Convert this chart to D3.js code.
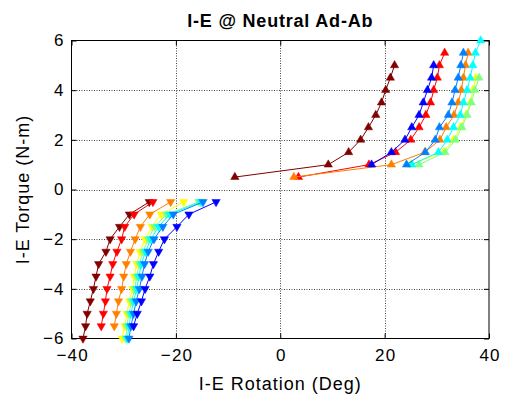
<!DOCTYPE html>
<html>
<head>
<meta charset="utf-8">
<script src="https://cdn.jsdelivr.net/npm/d3@7"></script>
<style>
  html, body { margin: 0; padding: 0; background: #fff; }
  svg { display: block; font-family: "Liberation Sans", Arial, sans-serif; }
</style>
</head>
<body>
<svg id="chart" width="510" height="399"></svg>
<script>
// Torque levels (N-m) for the external- and internal-rotation loading steps
const upTorque   = [0.5, 1, 1.5, 2, 2.5, 3, 3.5, 4, 4.5, 5, 5.5, 6];
const downTorque = [-0.5, -1, -1.5, -2, -2.5, -3, -3.5, -4, -4.5, -5, -5.5, -6];

// Rotation (deg) at each positive torque level; null = level not reached
const upMaroon    = [-8.7, 9.2, 13.1, 15.4, 16.9, 18.3, 19.4, 20.2, 21.1, 21.9, null, null];
const upRed       = [3.5, 17.0, 22.1, 25.0, 26.6, 27.9, 28.8, 29.4, 30.1, 30.5, 31.5, null];
const upOrange    = [2.6, 21.3, 27.7, 30.6, 31.8, 33.3, 34.1, 34.7, 35.1, 35.5, 36.0, null];
const upYellow    = [null, 24.9, 31.2, 33.2, 34.5, 35.6, 36.4, 36.9, 37.5, null, null, null];
const upGreen     = [null, 26.6, 31.6, 33.6, 34.8, 35.8, 36.6, 37.3, 38.1, null, null, null];
const upCyan      = [null, 25.2, 30.3, 32.0, 33.2, 34.5, 35.1, 35.8, 36.4, 36.9, 37.4, 38.4];
const upLightBlue = [null, 24.2, 27.8, 29.7, 30.5, 32.2, 32.9, 33.5, 34.1, 34.6, 35.1, null];
const upBlue      = [null, 17.5, 21.3, 23.9, 25.2, 26.6, 27.4, 28.2, 29.0, 29.4, null, null];

// Rotation (deg) at each negative torque level
const downMaroon    = [-25.1, -28.9, -30.8, -32.6, -33.4, -34.8, -35.3, -35.8, -36.4, -37.0, -37.3, -37.8];
const downRed       = [-24.4, -28.0, -29.8, -30.4, -31.3, -32.1, -32.6, -33.2, -33.5, -33.9, -34.3, null];
const downOrange    = [-21.0, -25.0, -26.8, -27.8, -28.7, -29.5, -30.0, -30.4, -31.0, -31.4, -31.8, null];
const downYellow    = [-18.5, -22.8, -24.6, -25.9, -26.9, -27.5, -28.0, -28.3, -28.9, -29.4, -29.8, -30.3];
const downGreen     = [-15.6, -21.8, -24.1, -25.3, -26.3, -27.0, -27.5, -27.9, -28.5, -29.0, -29.4, -29.6];
const downCyan      = [-15.2, -21.2, -23.3, -24.8, -25.8, -26.6, -27.1, -27.5, -28.1, -28.6, -29.0, -29.3];
const downLightBlue = [-14.8, -20.5, -22.5, -24.2, -25.3, -26.0, -26.5, -27.0, -27.6, -28.1, -28.6, -29.0];
const downBlue      = [-12.3, -17.5, -19.8, -22.2, -23.3, -24.3, -25.0, -25.9, -26.6, -27.4, -28.1, null];

const seriesColors = ["#800000", "#ff0000", "#ff8000", "#ffff00", "#80ff80", "#00ffff", "#0080ff", "#0000ff"];
const upSeries   = [upMaroon, upRed, upOrange, upYellow, upGreen, upCyan, upLightBlue, upBlue];
const downSeries = [downMaroon, downRed, downOrange, downYellow, downGreen, downCyan, downLightBlue, downBlue];

const xTicks = [-40, -20, 0, 20, 40];
const yTicks = [-6, -4, -2, 0, 2, 4, 6];

const titleText  = "I-E @ Neutral Ad-Ab";
const xLabelText = "I-E Rotation (Deg)";
const yLabelText = "I-E Torque (N-m)";

const svg = d3.select("#chart");
const plot = { left: 71.5, right: 489, top: 40.5, bottom: 338.5 };

const x = d3.scaleLinear().domain([-40, 40]).range([plot.left, plot.right]);
const y = d3.scaleLinear().domain([-6, 6]).range([plot.bottom, plot.top]);

svg.append("rect").attr("width", 510).attr("height", 399).attr("fill", "#fff");

// dotted grid
const grid = svg.append("g").attr("stroke", "#444").attr("stroke-width", 1).attr("stroke-dasharray", "1,1.5");
xTicks.slice(1, -1).forEach(t => {
  grid.append("line").attr("x1", Math.round(x(t)) + 0.5).attr("x2", Math.round(x(t)) + 0.5)
    .attr("y1", plot.top).attr("y2", plot.bottom);
});
yTicks.slice(1, -1).forEach(t => {
  grid.append("line").attr("y1", Math.round(y(t)) + 0.5).attr("y2", Math.round(y(t)) + 0.5)
    .attr("x1", plot.left).attr("x2", plot.right);
});

// axes with inward ticks on all four sides
const tickLen = 5;
const bottomAxis = d3.axisBottom(x).tickValues(xTicks).tickSize(-tickLen).tickPadding(10).tickFormat(d3.format("d"));
const topAxis    = d3.axisTop(x).tickValues(xTicks).tickSize(-tickLen).tickFormat("");
const leftAxis   = d3.axisLeft(y).tickValues(yTicks).tickSize(-tickLen).tickPadding(8).tickFormat(d3.format("d"));
const rightAxis  = d3.axisRight(y).tickValues(yTicks).tickSize(-tickLen).tickFormat("");

function styleAxis(g) {
  g.selectAll(".domain").remove();
  g.selectAll("line").attr("stroke", "#000");
  g.selectAll("text").attr("fill", "#000").style("font-size", "17px")
    .style("letter-spacing", "1.2px")
    .style("font-family", "'Liberation Sans', Arial, sans-serif");
}
svg.append("g").attr("transform", `translate(0,${plot.bottom})`).call(bottomAxis).call(styleAxis)
  .selectAll("text").attr("dx", "0.6px");
svg.append("g").attr("transform", `translate(0,${plot.top})`).call(topAxis).call(styleAxis);
svg.append("g").attr("transform", `translate(${plot.left},0)`).call(leftAxis).call(styleAxis)
  .selectAll("text").attr("dx", "1.2px");
svg.append("g").attr("transform", `translate(${plot.right},0)`).call(rightAxis).call(styleAxis);

svg.append("rect").attr("x", plot.left).attr("y", plot.top)
  .attr("width", plot.right - plot.left).attr("height", plot.bottom - plot.top)
  .attr("fill", "none").attr("stroke", "#000").attr("stroke-width", 1);

// series: connected lines with filled triangle markers
const line = d3.line().defined(d => d.r !== null).x(d => x(d.r)).y(d => y(d.t));
const tri = d3.symbol(d3.symbolTriangle, 30);

function drawSeries(values, torques, color, flip) {
  const pts = values.map((r, i) => ({ r: r, t: torques[i] })).filter(d => d.r !== null);
  const g = svg.append("g");
  g.append("path").datum(pts).attr("d", line).attr("fill", "none")
    .attr("stroke", color).attr("stroke-width", 1);
  g.selectAll("path.m").data(pts).join("path").attr("class", "m")
    .attr("d", tri)
    .attr("transform", d => `translate(${x(d.r)},${y(d.t)})` + (flip ? " rotate(180)" : ""))
    .attr("fill", color).attr("stroke", color).attr("stroke-width", 0.5);
}
downSeries.forEach((s, i) => drawSeries(s, downTorque, seriesColors[i], true));
upSeries.forEach((s, i) => drawSeries(s, upTorque, seriesColors[i], false));

// titles
svg.append("text").attr("x", (plot.left + plot.right) / 2).attr("y", 27)
  .attr("text-anchor", "middle").style("font-size", "18px").style("font-weight", "bold")
  .style("letter-spacing", "0.8px").text(titleText);
svg.append("text").attr("x", (plot.left + plot.right) / 2).attr("y", 390)
  .attr("text-anchor", "middle").style("font-size", "18px").style("letter-spacing", "1px")
  .text(xLabelText);
svg.append("text").attr("transform", `translate(29,${(plot.top + plot.bottom) / 2}) rotate(-90)`)
  .attr("text-anchor", "middle").style("font-size", "18px").style("letter-spacing", "1px")
  .text(yLabelText);
</script>
</body>
</html>
